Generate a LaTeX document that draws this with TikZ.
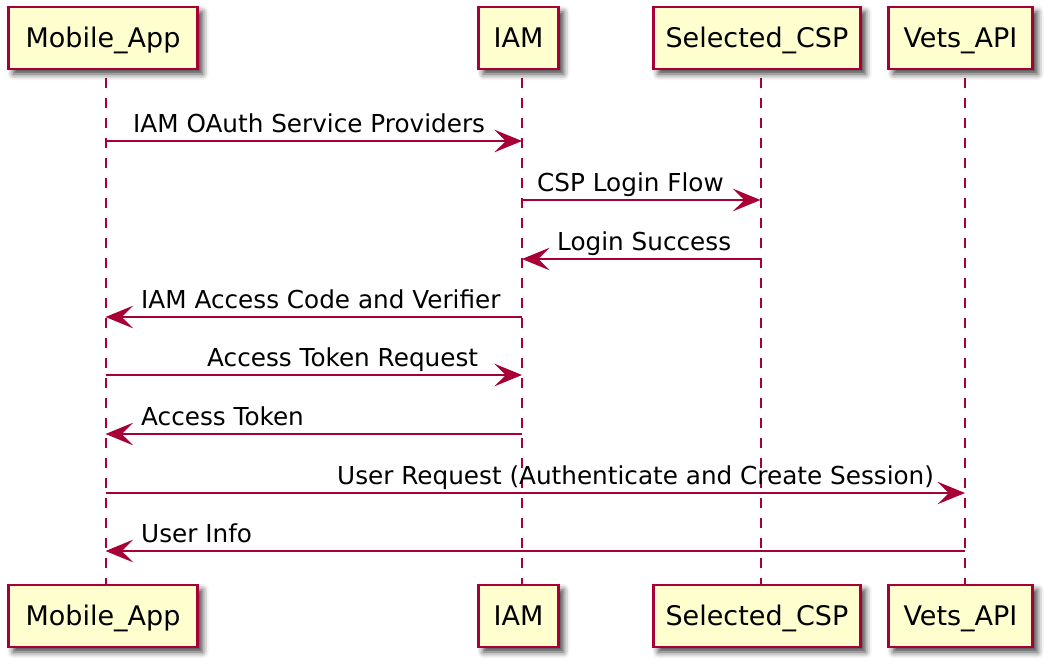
\documentclass[tikz,border=0pt]{standalone}
\usepackage{fontspec}
\setmainfont{DejaVu Sans}
\usetikzlibrary{arrows.meta,shadows.blur}
\definecolor{plborder}{HTML}{A80036}
\definecolor{plfill}{HTML}{FEFECE}
\tikzset{
  actor/.style={draw=plborder, line width=2.6pt, fill=plfill,
    font=\fontsize{27}{32}\selectfont, text height=19.5pt, text depth=0pt,
    inner sep=0pt, minimum height=62pt,
    blur shadow={shadow xshift=5pt, shadow yshift=-5pt, shadow blur radius=6pt, shadow opacity=75}},
  life/.style={draw=plborder, line width=2pt, dash pattern=on 10pt off 10pt},
  msg/.style={draw=plborder, line width=2pt,
    -{Stealth[length=22pt 0 0,width=18pt 0 0,inset=9pt 0 0,line width=1.5pt 0 0,scale=1.25]}},
  lbl/.style={font=\fontsize{24.7}{30}\selectfont, anchor=base west, inner sep=0pt},
}
\begin{document}
\begin{tikzpicture}[x=1pt,y=-1pt]
\useasboundingbox (0,0) rectangle (1054,670);
% lifeline x positions
\coordinate (Lm) at (105.5,0);
\coordinate (Li) at (522,0);
\coordinate (Lc) at (760.5,0);
\coordinate (Lv) at (965,0);
% message rows
\coordinate (r1) at (0,141);
\coordinate (r2) at (0,200);
\coordinate (r3) at (0,259);
\coordinate (r4) at (0,317);
\coordinate (r5) at (0,375);
\coordinate (r6) at (0,434);
\coordinate (r7) at (0,493);
\coordinate (r8) at (0,551);
\coordinate (ls) at (0,78);
\coordinate (le) at (0,585);
% lifelines
\draw[life] (Lm |- ls) -- (Lm |- le);
\draw[life] (Li |- ls) -- (Li |- le);
\draw[life] (Lc |- ls) -- (Lc |- le);
\draw[life] (Lv |- ls) -- (Lv |- le);
% participants top
\node[actor, minimum width=189pt] (mt) at (103,38) {Mobile\_App};
\node[actor, minimum width=80pt] (it) at (518.5,38) {IAM};
\node[actor, minimum width=207pt] (ct) at (757,38) {Selected\_CSP};
\node[actor, minimum width=144pt] (vt) at (960.5,38) {Vets\_API};
% participants bottom
\node[actor, minimum width=189pt] (mb) at (103,616) {Mobile\_App};
\node[actor, minimum width=80pt] (ib) at (518.5,616) {IAM};
\node[actor, minimum width=207pt] (cb) at (757,616) {Selected\_CSP};
\node[actor, minimum width=144pt] (vb) at (960.5,616) {Vets\_API};
% messages
\draw[msg] (Lm |- r1) -- (Li |- r1);
\node[lbl] (t1) at (133,132) {IAM OAuth Service Providers};
\draw[msg] (Li |- r2) -- (Lc |- r2);
\node[lbl] (t2) at (537,191) {CSP Login Flow};
\draw[msg] (Lc |- r3) -- (Li |- r3);
\node[lbl] (t3) at (557,250) {Login Success};
\draw[msg] (Li |- r4) -- (Lm |- r4);
\node[lbl] (t4) at (141,308) {IAM Access Code and Verifier};
\draw[msg] (Lm |- r5) -- (Li |- r5);
\node[lbl] (t5) at (207,366) {Access Token Request};
\draw[msg] (Li |- r6) -- (Lm |- r6);
\node[lbl] (t6) at (141,425) {Access Token};
\draw[msg] (Lm |- r7) -- (Lv |- r7);
\node[lbl] (t7) at (337,484) {User Request (Authenticate and Create Session)};
\draw[msg] (Lv |- r8) -- (Lm |- r8);
\node[lbl] (t8) at (141,542) {User Info};
\end{tikzpicture}
\end{document}
